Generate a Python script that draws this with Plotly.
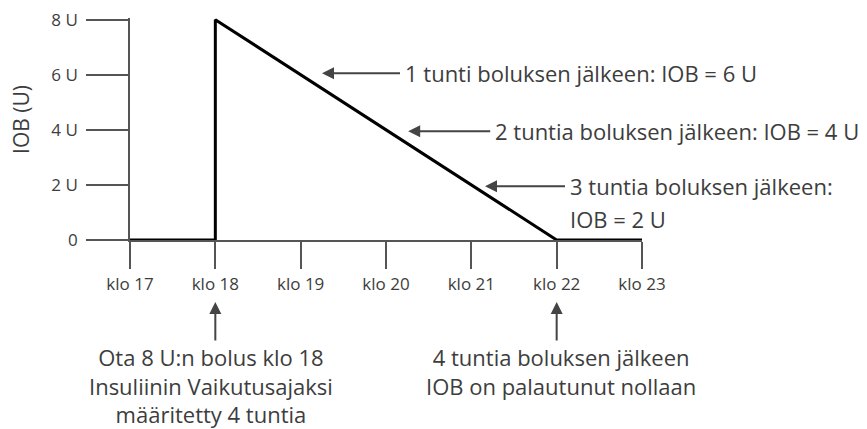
import plotly.graph_objects as go

# IOB curve: bolus at 18, insulin active for 4 hours
hours = [17, 18, 18, 22, 23]
iob = [0, 0, 8, 0, 0]

x_ticks = [17, 18, 19, 20, 21, 22, 23]
x_labels = ["klo 17", "klo 18", "klo 19", "klo 20", "klo 21", "klo 22", "klo 23"]
y_ticks = [0, 2, 4, 6, 8]
y_labels = ["0", "2 U", "4 U", "6 U", "8 U"]

# side notes pointing at the line (arrow head x, y, text)
note_x = [19.25, 20.26, 21.16]
note_y = [6.05, 3.95, 1.95]
note_text = ["1 tunti boluksen jälkeen: IOB = 6 U",
             "2 tuntia boluksen jälkeen: IOB = 4 U",
             "3 tuntia boluksen jälkeen:"]
note_ax = [78, 82, 80]

# notes below the x axis
bottom_x = [18, 22]
bottom_text = ["Ota 8 U:n bolus klo 18<br>Insuliinin Vaikutusajaksi<br>määritetty 4 tuntia",
               "4 tuntia boluksen jälkeen<br>IOB on palautunut nollaan"]

TXT = "#3d3d3d"
AX = "#555555"
FONT = "Open Sans"
NOTE_SIZE = 22

fig = go.Figure()
fig.add_trace(go.Scatter(x=hours, y=iob, mode="lines",
                         line=dict(color="black", width=3), hoverinfo="skip"))

ann = []
for x, y, t, a in zip(note_x, note_y, note_text, note_ax):
    ann.append(dict(x=x, y=y, xref="x", yref="y", text=t, showarrow=True,
                    ax=a, ay=0, xanchor="left", arrowhead=2, arrowsize=1.2,
                    arrowwidth=2, arrowcolor="#444444", standoff=0, borderpad=4,
                    font=dict(size=NOTE_SIZE, color=TXT, family=FONT)))
# second line of the third note
ann.append(dict(x=note_x[2], y=note_y[2], xref="x", yref="y", text="IOB = 2 U",
                showarrow=False, xanchor="left", yanchor="middle", borderpad=4,
                xshift=note_ax[2], yshift=-33,
                font=dict(size=NOTE_SIZE, color=TXT, family=FONT)))

for x in bottom_x:
    ann.append(dict(x=x, y=-0.279, xref="x", yref="paper", ax=0, ay=40,
                    text="", showarrow=True, arrowhead=2, arrowsize=1.2,
                    arrowwidth=2, arrowcolor="#444444"))
for x, t, s in zip(bottom_x, bottom_text, [-4, 4]):
    ann.append(dict(x=x, y=-0.452, xref="x", yref="paper", text=t, showarrow=False,
                    xanchor="center", yanchor="top", align="center", xshift=s,
                    font=dict(size=NOTE_SIZE, color=TXT, family=FONT)))

ann.append(dict(x=-0.213, y=0.545, xref="paper", yref="paper", text="IOB (U)",
                showarrow=False, textangle=-90, xanchor="center", yanchor="middle",
                borderpad=0, font=dict(size=21, color=TXT, family=FONT)))

# page body adds 8px margin, so the figure is drawn 8px smaller/offset
fig.update_layout(
    width=859, height=421,
    margin=dict(l=122, r=225, t=10, b=189),
    plot_bgcolor="white", paper_bgcolor="white",
    showlegend=False,
    annotations=ann,
    font=dict(family=FONT, color=TXT),
)
fig.update_xaxes(range=[17, 23], tickvals=x_ticks, ticktext=x_labels,
                 showgrid=False, zeroline=False, showline=True, automargin=False,
                 linecolor=AX, linewidth=1.5, ticks="outside", ticklen=27,
                 tickwidth=1.5, tickcolor=AX, ticklabelstandoff=1,
                 tickfont=dict(size=17, color=TXT, family=FONT))
fig.update_yaxes(range=[0, 8.06], tickvals=y_ticks, ticktext=y_labels,
                 showgrid=False, zeroline=False, showline=True, automargin=False,
                 linecolor=AX, linewidth=1.5, ticks="outside", ticklen=42,
                 tickwidth=1.5, tickcolor=AX, ticklabelstandoff=5,
                 ticklabeloverflow="allow",
                 tickfont=dict(size=17, color=TXT, family=FONT))

fig.write_html("out.html")
